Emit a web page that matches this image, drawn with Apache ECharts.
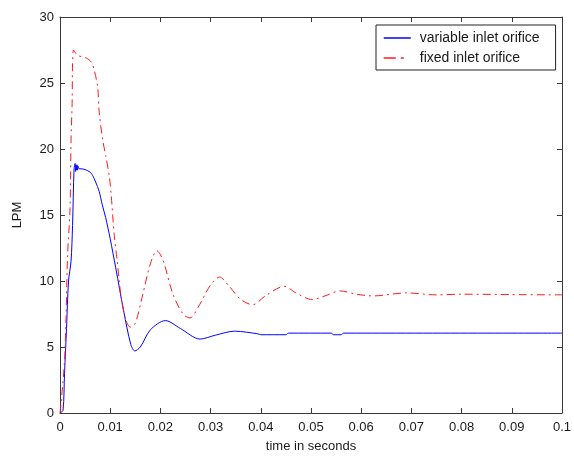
<!DOCTYPE html>
<html><head><meta charset="utf-8">
<script src="https://cdn.jsdelivr.net/npm/echarts@6/dist/echarts.min.js"></script>
<style>html,body{margin:0;padding:0;background:#fff}#c{width:574px;height:458px}</style>
</head><body><div id="c"></div>
<script>
const seriesNames = ['variable inlet orifice', 'fixed inlet orifice'];
const xTickLabels = ['0','0.01','0.02','0.03','0.04','0.05','0.06','0.07','0.08','0.09','0.1'];
const yTickLabels = ['0','5','10','15','20','25','30'];
const variableT = [0,0.0006,0.0009,0.0013,0.0017,0.0022,0.0025,0.0028,0.0030,0.0031,0.0032,0.0033,0.0034,0.0035,0.0036,0.0038,0.0042,0.0058,0.0065,0.0071,0.0078,0.0084,0.0091,0.0100,0.0111,0.0127,0.0141,0.0149,0.0160,0.0180,0.0210,0.0240,0.0279,0.0310,0.0348,0.0394,0.0400,0.0450,0.0455,0.0540,0.0545,0.0560,0.0565,0.1];
const variableV = [0,0.2,3,6.4,10,11.5,14.2,18.5,18.9,18.3,18.8,18.4,18.8,18.4,18.7,18.5,18.5,18.3,18.0,17.5,16.8,15.8,14.8,13.2,11.0,7.7,5.2,4.7,5.0,6.3,7.0,6.4,5.6,5.9,6.2,6.0,5.93,5.93,6.05,6.05,5.93,5.93,6.05,6.05];
const fixedT = [0,0.0002,0.0009,0.0012,0.0015,0.0020,0.0022,0.0024,0.0027,0.0035,0.0052,0.0062,0.0068,0.0075,0.0078,0.0085,0.0091,0.0098,0.0102,0.0108,0.0114,0.0121,0.0130,0.0140,0.0150,0.0165,0.0180,0.0193,0.0205,0.0225,0.0245,0.0259,0.0275,0.0300,0.0318,0.0335,0.0360,0.0384,0.0410,0.0447,0.0470,0.0502,0.0530,0.0558,0.0590,0.0624,0.0690,0.0750,0.0800,0.0900,0.1];
const fixedV = [0,0.7,3.9,7.2,11.9,15.5,20.7,23.2,27.5,27.1,26.9,26.6,26.0,24.7,22.8,20.7,19.5,18.0,16.5,13.5,11.5,9.0,7.2,6.5,6.8,9.0,11.3,12.3,11.6,9.0,7.5,7.2,8.0,9.7,10.3,9.7,8.6,8.2,8.9,9.6,9.1,8.6,8.9,9.25,9.0,8.87,9.1,8.95,9.0,8.97,8.95];

const pair = (t, v) => t.map((x, i) => [x, v[i]]);
const axisCol = '#3a3a3a';
const txtCol = '#1a1a1a';
const font = 'Arial, "Liberation Sans", sans-serif';
const xFmt = v => xTickLabels[Math.round(v * 100)] ?? '';
const yFmt = v => yTickLabels[Math.round(v / 5)] ?? '';
const boxLine = {show: true, onZero: false, lineStyle: {color: axisCol, width: 1}};
const boxTick = {show: true, inside: true, length: 5, lineStyle: {color: axisCol}};

const chart = echarts.init(document.getElementById('c'), null, {renderer: 'canvas'});
chart.setOption({
  animation: false,
  backgroundColor: '#fff',
  grid: {left: 60, right: 7, top: 17, bottom: 43, containLabel: false},
  legend: {
    left: 376, top: 25, orient: 'vertical',
    borderColor: '#222', borderWidth: 1, backgroundColor: '#fff',
    padding: [6, 16, 5, 7], itemGap: 6, itemWidth: 27, itemHeight: 12,
    textStyle: {fontFamily: font, fontSize: 14, color: txtCol, padding: [0, 0, 0, 4]},
    data: [
      {name: seriesNames[0], itemStyle: {opacity: 0}, lineStyle: {color: '#0000ff', width: 1.5, type: 'solid'}},
      {name: seriesNames[1], itemStyle: {opacity: 0}, lineStyle: {color: '#ff1a1a', width: 1.5, type: [12, 5, 3, 7]}}
    ]
  },
  xAxis: [{
    type: 'value', min: 0, max: 0.1, interval: 0.01, position: 'bottom',
    name: 'time in seconds', nameLocation: 'middle', nameGap: 27,
    nameTextStyle: {fontFamily: font, fontSize: 13, color: txtCol},
    axisLine: boxLine, axisTick: boxTick,
    axisLabel: {formatter: xFmt, fontFamily: font, fontSize: 13, color: txtCol, margin: 8},
    splitLine: {show: false}
  }, {
    type: 'value', min: 0, max: 0.1, interval: 0.01, position: 'top',
    axisLine: boxLine, axisTick: boxTick,
    axisLabel: {show: false}, splitLine: {show: false}
  }],
  yAxis: [{
    type: 'value', min: 0, max: 30, interval: 5, position: 'left',
    name: 'LPM', nameLocation: 'middle', nameGap: 36, nameRotate: 90,
    nameTextStyle: {fontFamily: font, fontSize: 13, color: txtCol},
    axisLine: boxLine, axisTick: boxTick,
    axisLabel: {formatter: yFmt, fontFamily: font, fontSize: 13, color: txtCol, margin: 6},
    splitLine: {show: false}
  }, {
    type: 'value', min: 0, max: 30, interval: 5, position: 'right',
    axisLine: boxLine, axisTick: boxTick,
    axisLabel: {show: false}, splitLine: {show: false}
  }],
  series: [{
    name: seriesNames[0], type: 'line', showSymbol: false, symbol: 'none',
    smooth: 0.3, data: pair(variableT, variableV),
    color: '#0000ff', lineStyle: {color: '#0000ff', width: 1}
  }, {
    name: seriesNames[1], type: 'line', showSymbol: false, symbol: 'none',
    smooth: 0.3, data: pair(fixedT, fixedV),
    color: '#ff0000', lineStyle: {color: '#ff1a1a', width: 1, type: [8, 4, 2, 4]}
  }]
});
</script></body></html>
